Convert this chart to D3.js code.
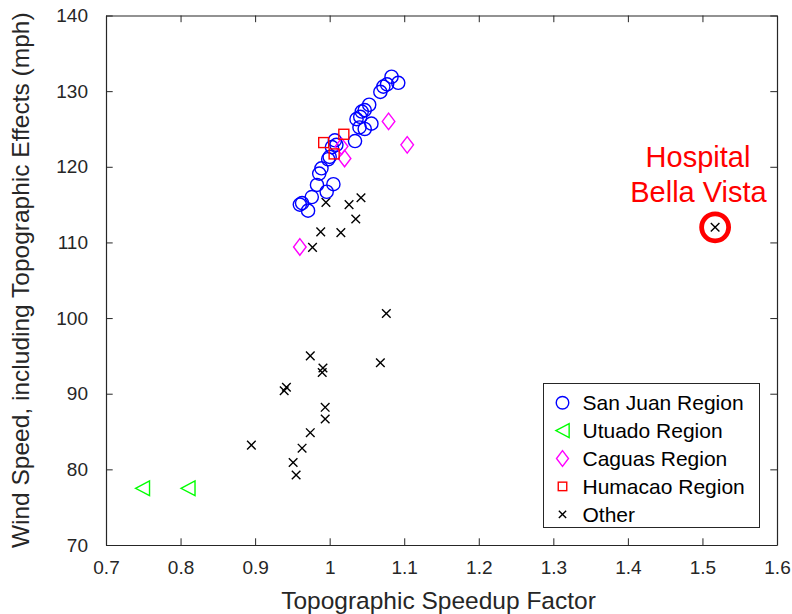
<!DOCTYPE html>
<html>
<head>
<meta charset="utf-8">
<script src="https://cdn.jsdelivr.net/npm/d3@7"></script>
<style>
    body { margin: 0; background: #fff; }
    svg { display: block; font-family: "Liberation Sans", Arial, sans-serif; }
</style>
</head>
<body>
<svg id="chart" width="792" height="614"></svg>
<script>
// Topographic speedup factor (x) and wind speed in mph (y), one pair list per region
let sanJuan = [
    [1.083,131.9],[1.092,131.1],[1.077,130.9],[1.072,130.6],[1.068,129.9],
    [1.053,128.2],[1.047,127.5],[1.043,127.3],[1.041,126.6],[1.036,126.3],
    [1.056,125.7],[1.047,125.0],[1.040,125.2],[1.034,123.4],[1.007,123.5],
    [1.009,122.9],[1.003,122.6],[1.000,121.3],[0.998,121.0],[0.989,119.8],
    [0.986,119.1],[0.983,117.6],[1.005,117.7],[0.996,116.7],[0.976,116.0],
    [0.963,115.2],[0.960,115.0],[0.971,114.2]
];
let utuado = [[0.749,77.5],[0.810,77.5]];
let caguas = [[1.079,126.0],[1.104,122.9],[1.020,121.1],[1.016,122.7],[0.960,109.4]];
let humacao = [[0.992,123.2],[1.019,124.3],[1.006,121.7]];
let other = [
    [0.995,115.3],[1.026,115.0],[1.042,115.9],[1.035,113.1],[0.988,111.4],
    [1.015,111.3],[0.977,109.35],[1.076,100.6],[0.974,95.0],[0.991,93.4],
    [0.990,92.8],[1.068,94.1],[0.942,90.85],[0.939,90.4],[0.994,88.2],
    [0.994,86.65],[0.974,84.85],[0.963,82.8],[0.895,83.2],[0.951,80.9],
    [0.955,79.25],[1.517,112.0]
];
let hospital = [1.517,112.0];

let xTicks = [0.7,0.8,0.9,1.0,1.1,1.2,1.3,1.4,1.5,1.6];
let yTicks = [70,80,90,100,110,120,130,140];
let legendNames = ["San Juan Region","Utuado Region","Caguas Region","Humacao Region","Other"];

let axisColor = "#262626";
let svg = d3.select("#chart");

// plot box in pixels
let boxLeft = 106, boxRight = 777, boxTop = 15.5, boxBottom = 545;

let x = d3.scaleLinear().domain([0.7,1.6]).range([boxLeft,boxRight]);
let y = d3.scaleLinear().domain([70,140]).range([boxBottom,boxTop]);

/**
 * Draws the box and the inward ticks on all four sides
 */
function drawAxes(){
    let tickLen = 6.7;
    let fmt = d => d3.format("~g")(d);

    let xBottom = d3.axisBottom(x).tickValues(xTicks).tickFormat(fmt).tickSizeInner(-tickLen).tickSizeOuter(0).tickPadding(16);
    let xTop = d3.axisTop(x).tickValues(xTicks).tickFormat("").tickSizeInner(-tickLen).tickSizeOuter(0);
    let yLeft = d3.axisLeft(y).tickValues(yTicks).tickFormat(fmt).tickSizeInner(-tickLen).tickSizeOuter(0).tickPadding(18);
    let yRight = d3.axisRight(y).tickValues(yTicks).tickFormat("").tickSizeInner(-tickLen).tickSizeOuter(0);

    let groups = [
        svg.append("g").attr("transform",`translate(0,${boxBottom})`).call(xBottom),
        svg.append("g").attr("transform",`translate(0,${boxTop})`).call(xTop),
        svg.append("g").attr("transform",`translate(${boxLeft},0)`).call(yLeft),
        svg.append("g").attr("transform",`translate(${boxRight},0)`).call(yRight)
    ];
    for(let g of groups){
        g.attr("font-family",null).attr("font-size",null);
        g.select(".domain").attr("stroke",axisColor).attr("stroke-width",1.2);
        g.selectAll(".tick line").attr("stroke",axisColor).attr("stroke-width",1);
        g.selectAll("text").attr("fill",axisColor).style("font-size","19px");
    }

    // axis titles
    svg.append("text")
        .attr("x",(boxLeft+boxRight)/2 - 3)
        .attr("y",609)
        .attr("text-anchor","middle")
        .attr("fill",axisColor)
        .style("font-size","24.5px")
        .text("Topographic Speedup Factor");

    svg.append("text")
        .attr("transform",`translate(29,${(boxTop+boxBottom)/2}) rotate(-90)`)
        .attr("text-anchor","middle")
        .attr("fill",axisColor)
        .style("font-size","24.5px")
        .text("Wind Speed, including Topographic Effects (mph)");
}

/**
 * Draws one marker shape centred at (cx,cy)
 */
function drawMarker(g,kind,cx,cy,scale){
    let s = scale || 1;
    if(kind == "circle"){
        g.append("circle").attr("cx",cx).attr("cy",cy).attr("r",6.6*s)
            .attr("fill","none").attr("stroke","#0000ff").attr("stroke-width",1.4);
    } else if(kind == "triangle"){
        let w = 7*s, h = 7.3*s;
        g.append("path")
            .attr("d",`M${cx-w},${cy} L${cx+w},${cy-h} L${cx+w},${cy+h} Z`)
            .attr("fill","none").attr("stroke","#00ff00").attr("stroke-width",1.4);
    } else if(kind == "diamond"){
        let w = 6.3*s, h = 8.3*s;
        g.append("path")
            .attr("d",`M${cx},${cy-h} L${cx+w},${cy} L${cx},${cy+h} L${cx-w},${cy} Z`)
            .attr("fill","none").attr("stroke","#ff00ff").attr("stroke-width",1.4);
    } else if(kind == "square"){
        let h = 5*s;
        g.append("rect").attr("x",cx-h).attr("y",cy-h).attr("width",2*h).attr("height",2*h)
            .attr("fill","none").attr("stroke","#ff0000").attr("stroke-width",1.4);
    } else {
        let h = 4.3*s;
        g.append("path")
            .attr("d",`M${cx-h},${cy-h} L${cx+h},${cy+h} M${cx-h},${cy+h} L${cx+h},${cy-h}`)
            .attr("fill","none").attr("stroke","#000").attr("stroke-width",1.4);
    }
}

/**
 * Draws all scatter series
 */
function drawPoints(){
    let g = svg.append("g");
    let series = [
        {data:other, kind:"x"},
        {data:sanJuan, kind:"circle"},
        {data:utuado, kind:"triangle"},
        {data:caguas, kind:"diamond"},
        {data:humacao, kind:"square"}
    ];
    for(let s of series){
        for(let p of s.data){
            drawMarker(g,s.kind,x(p[0]),y(p[1]));
        }
    }

    // highlight ring and label for the hospital
    svg.append("circle")
        .attr("cx",x(hospital[0])).attr("cy",y(hospital[1])).attr("r",13.5)
        .attr("fill","none").attr("stroke","#ff0000").attr("stroke-width",4.8);

    let label = svg.append("text")
        .attr("text-anchor","middle")
        .attr("fill","#ff0000")
        .style("font-size","29px");
    label.append("tspan").attr("x",698).attr("y",167).text("Hospital");
    label.append("tspan").attr("x",698.5).attr("y",201.5).text("Bella Vista");
}

/**
 * Legend box in the lower right
 */
function drawLegend(){
    let kinds = ["circle","triangle","diamond","square","x"];
    let g = svg.append("g");
    g.append("rect")
        .attr("x",543.5).attr("y",383.5).attr("width",216).attr("height",144)
        .attr("fill","#fff").attr("stroke",axisColor).attr("stroke-width",1);

    legendNames.forEach((name,i)=>{
        let cy = 402.7 + i*27.9;
        let sc = kinds[i] == "square" ? 0.85 : (kinds[i] == "x" ? 0.85 : 0.95);
        drawMarker(g,kinds[i],562.5,cy,sc);
        g.append("text")
            .attr("x",582.5).attr("y",cy)
            .attr("dy","0.36em")
            .attr("fill","#000")
            .style("font-size","21px")
            .text(name);
    });
}

drawAxes();
drawPoints();
drawLegend();
</script>
</body>
</html>
